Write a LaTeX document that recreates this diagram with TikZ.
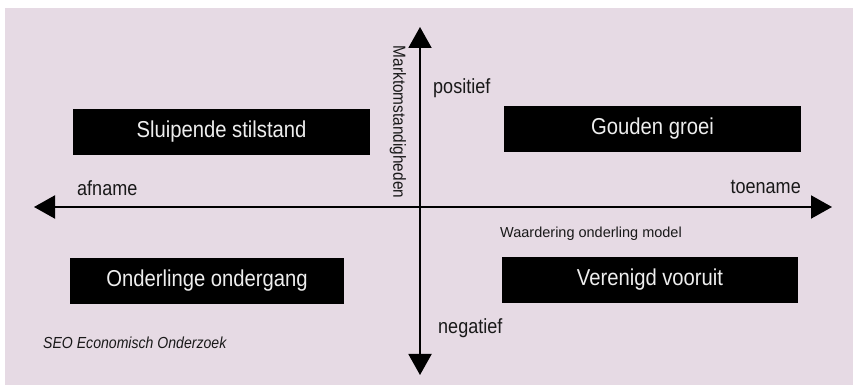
\documentclass[tikz,border=0pt]{standalone}
\usepackage{fontspec}
\setmainfont[FakeStretch=0.88]{Liberation Sans}
\newfontfamily\plainfont{Liberation Sans}
\usetikzlibrary{arrows.meta}
\definecolor{bgpink}{RGB}{230,218,228}
\definecolor{boxtext}{RGB}{238,238,238}
\tikzset{
  quad/.style={fill=black, text=boxtext, minimum height=46pt, inner sep=0pt, font=\fontsize{23}{26}\selectfont},
  axis/.style={line width=2pt, -{Triangle[width=23pt,length=21pt]}},
  lbl/.style={inner sep=0pt, font=\fontsize{20.5}{24}\selectfont, text=black!90},
}
\begin{document}
\begin{tikzpicture}[x=1pt,y=1pt]
\useasboundingbox (0,0) rectangle (853,385);
\fill[bgpink] (5,0) rectangle (853,377);
% boxes
\node[quad, minimum width=297pt] (ss) at (221.5,253) {Sluipende stilstand};
\node[quad, minimum width=297pt] (gg) at (652.5,256) {Gouden groei};
\node[quad, minimum width=274pt] (oo) at (207,104) {Onderlinge ondergang};
\node[quad, minimum width=296pt] (vv) at (650,105) {Verenigd vooruit};
% axes
\coordinate (c) at (420,178);
\coordinate (top) at (420,358);
\coordinate (bot) at (420,10);
\coordinate (left) at (34,178);
\coordinate (right) at (832,178);
\draw[axis] (c) -- (top);
\draw[axis] (c) -- (bot);
\draw[axis] (c) -- (left);
\draw[axis] (c) -- (right);
% labels
\node[lbl, anchor=west] (pos) at (433,297) {positief};
\node[lbl, anchor=west] (neg) at (438,57) {negatief};
\node[lbl, anchor=west] (af) at (77,197) {afname};
\node[lbl, anchor=east] (toe) at (801,198) {toename};
\node[inner sep=0pt, rotate=-90, font=\fontsize{17.5}{20}\selectfont, text=black!90] (mk) at (398,263) {Marktomstandigheden};
\node[inner sep=0pt, anchor=west, font=\plainfont\fontsize{14.5}{17}\selectfont, text=black!90] (wm) at (500,151) {Waardering onderling model};
\node[inner sep=0pt, anchor=west, font=\itshape\fontsize{16}{19}\selectfont, text=black!90] (seo) at (43,42) {SEO Economisch Onderzoek};
\end{tikzpicture}
\end{document}
